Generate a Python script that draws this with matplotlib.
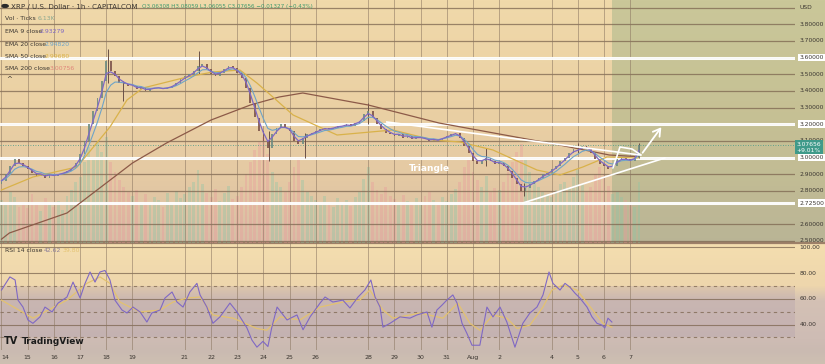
import numpy as np
import pandas as pd
import matplotlib.pyplot as plt
from matplotlib.patches import Rectangle

# =====================================================
# DATA  (XRP / USD 1h chart, read off at 4h steps from Jul 14 00:00)
# =====================================================

closes = [
    2.86, 2.90, 2.95, 2.99, 2.97, 2.95,   # Jul 14
    2.93, 2.91, 2.89, 2.90, 2.88, 2.90,   # 15
    2.89, 2.90, 2.91, 2.92, 2.94, 2.97,   # 16
    3.02, 3.10, 3.20, 3.28, 3.36, 3.46,   # 17
    3.58, 3.52, 3.49, 3.45, 3.44, 3.43,   # 18
    3.43, 3.41, 3.42, 3.40, 3.41, 3.42,   # 19
    3.42, 3.41, 3.42, 3.43, 3.45, 3.47,   # 20
    3.49, 3.50, 3.52, 3.55, 3.56, 3.53,   # 21
    3.50, 3.49, 3.51, 3.53, 3.55, 3.54,   # 22
    3.51, 3.48, 3.42, 3.33, 3.24, 3.16,   # 23
    3.10, 3.06, 3.14, 3.18, 3.20, 3.18,   # 24
    3.16, 3.10, 3.08, 3.12, 3.14, 3.15,   # 25
    3.16, 3.17, 3.18, 3.17, 3.18, 3.19,   # 26
    3.19, 3.20, 3.19, 3.21, 3.22, 3.26,   # 27
    3.28, 3.24, 3.20, 3.17, 3.15, 3.14,   # 28
    3.13, 3.14, 3.12, 3.13, 3.11, 3.12,   # 29
    3.12, 3.11, 3.10, 3.11, 3.10, 3.12,   # 30
    3.13, 3.14, 3.15, 3.12, 3.07, 3.03,   # 31
    2.98, 2.96, 2.98, 3.00, 2.98, 2.96,   # Aug 1
    2.97, 2.95, 2.92, 2.88, 2.84, 2.80,   # 2
    2.82, 2.84, 2.86, 2.88, 2.90, 2.91,   # 3
    2.93, 2.95, 2.98, 3.00, 3.03, 3.05,   # 4
    3.05, 3.07, 3.06, 3.03, 2.99, 2.96,   # 5
    2.95, 2.93, 2.95, 2.99, 3.00, 2.99,   # 6
    2.98, 3.00, 3.077,                    # 7
]
first_open = 2.84

volume_k = [
    4.2, 3.8, 5.0, 4.5, 3.6, 4.0,
    3.5, 4.8, 4.0, 3.2, 4.4, 3.9,
    3.6, 4.1, 3.3, 4.6, 5.2, 6.0,
    6.5, 8.0, 9.5, 8.5, 10.0, 9.0,
    10.5, 8.0, 7.0, 6.2, 5.5, 5.0,
    4.6, 5.2, 4.0, 4.8, 3.9, 4.5,
    4.2, 3.6, 4.9, 4.0, 5.1, 4.4,
    4.8, 5.5, 6.0, 7.2, 5.8, 4.9,
    4.5, 5.3, 4.1, 4.9, 5.6, 4.3,
    4.6, 5.5, 6.8, 8.0, 9.2, 10.0,
    10.5, 8.8, 7.0, 6.0, 5.5, 5.0,
    6.0, 7.5, 8.5, 6.2, 5.0, 4.6,
    4.2, 3.8, 4.6, 4.0, 3.6, 4.4,
    3.9, 4.2, 3.7, 4.5, 5.0, 6.3,
    7.5, 6.0, 5.2, 4.8, 5.5, 4.6,
    4.3, 3.8, 4.7, 4.1, 3.9, 4.4,
    4.0, 4.6, 5.0, 4.2, 3.8, 4.5,
    4.1, 4.8, 5.3, 6.0, 7.5, 8.2,
    7.0, 6.2, 5.5, 6.6, 5.0, 5.4,
    5.2, 6.0, 7.0, 8.0, 9.0, 9.8,
    8.5, 7.0, 6.0, 5.5, 5.0, 4.8,
    4.5, 5.2, 5.8, 6.0, 5.5, 6.5,
    7.2, 5.8, 5.0, 5.5, 6.8, 7.5,
    6.8, 5.6, 4.8, 5.0, 4.5, 4.2,
    4.0, 3.6, 6.0,
]

# bigger wicks (day, low, high)
wick_day = [4.05, 4.65, 7.55, 10.2, 11.6, 14.0, 18.5, 19.95, 22.0, 24.33]
wick_low = [3.45, 3.34, 3.50, 2.98, 3.00, 3.20, 2.95, 2.77, 3.03, 3.00]
wick_high = [3.65, 3.46, 3.64, 3.16, 3.15, 3.33, 3.06, 2.85, 3.09, 3.09]

sma50_day = [0.0, 1.2, 2.88, 4.14, 4.79, 5.40, 6.32, 7.08, 8.07, 9.10, 9.75, 10.36,
             11.13, 12.81, 14.94, 16.47, 17.50, 18.76, 20.44, 21.32, 22.19, 23.11, 24.3]
sma50 = [2.805, 2.883, 2.943, 3.183, 3.345, 3.417, 3.453, 3.483, 3.513, 3.525, 3.447, 3.363,
         3.255, 3.135, 3.165, 3.105, 3.093, 3.045, 2.925, 2.895, 2.943, 3.003, 2.997]

sma200_day = [0.0, 0.3, 2.5, 5.0, 6.3, 8.0, 9.5, 10.6, 11.5, 14.0, 16.7, 21.3, 23.2, 24.3]
sma200 = [2.51, 2.547, 2.667, 2.967, 3.087, 3.225, 3.315, 3.363, 3.387, 3.315, 3.207,
          3.075, 3.015, 3.005]

rsi_day = [0.0, 0.32, 0.52, 0.63, 0.82, 1.01, 1.20, 1.47, 1.66, 1.93, 2.16, 2.50, 2.73,
           3.00, 3.19, 3.38, 3.57, 3.76, 3.95, 4.14, 4.33, 4.60, 4.79, 5.02, 5.29, 5.55,
           5.74, 6.05, 6.24, 6.51, 6.70, 6.93, 7.19, 7.46, 7.58, 7.84, 8.07, 8.34, 8.72,
           8.99, 9.37, 9.56, 9.75, 9.98, 10.17, 10.32, 10.52, 10.90, 11.28, 11.51, 11.78,
           12.16, 12.35, 12.65, 13.03, 13.30, 13.61, 13.87, 14.10, 14.26, 14.45, 14.56,
           14.83, 15.21, 15.59, 15.86, 16.24, 16.43, 16.62, 16.81, 17.00, 17.23, 17.39,
           17.58, 17.77, 17.96, 18.26, 18.53, 18.76, 19.03, 19.29, 19.60, 19.90, 20.17,
           20.44, 20.67, 20.90, 21.05, 21.32, 21.51, 21.70, 21.89, 22.08, 22.35, 22.54,
           22.73, 22.92, 23.03, 23.15, 23.30]
rsi = [66.8, 77, 74.6, 59, 53.6, 43.6, 41, 46, 53.6, 49.8, 56.7, 61.4, 73,
       60.6, 72, 80.8, 73, 80.8, 82, 74.6, 59, 51.3, 49, 53.6, 49.8, 42,
       49, 51.3, 60.6, 65.3, 57.5, 53.6, 65.3, 72, 63, 53.6, 41, 46, 56.7,
       49.8, 37.4, 28, 22.5, 27, 23, 38, 53.6, 43.6, 47.5, 36, 46,
       56.7, 61.4, 57.5, 59, 52.9, 61.4, 66.8, 74.6, 61.4, 53.6, 38,
       41, 46, 45, 47.5, 49.8, 38, 51.3, 55, 59, 63, 56.7,
       41, 33, 24, 24, 53.6, 46, 53.6, 42, 22.5, 41, 49,
       53.6, 63, 80.8, 72, 66.8, 72, 69, 64.4, 60.6, 53.6, 46,
       41, 39.6, 37.4, 45, 42]

rsi_ma_day = [0.0, 1.20, 2.50, 3.26, 3.76, 4.14, 4.52, 5.29, 6.05, 6.55, 7.08, 7.58, 8.07,
              8.84, 9.75, 10.13, 10.63, 11.39, 12.16, 13.03, 13.68, 14.06, 14.56, 14.94,
              15.59, 15.97, 16.85, 17.42, 17.88, 18.26, 18.76, 19.29, 19.68, 20.17, 20.67,
              21.01, 21.43, 21.97, 22.48, 22.96, 23.30]
rsi_ma = [59, 45, 59, 72, 77, 72, 57.5, 49.8, 51.3, 57.5, 60.6, 61.4, 47.5,
          45, 37, 35.6, 46, 43.6, 53.6, 57.5, 59, 66.8, 51.3, 45,
          47.5, 49, 45, 56.7, 41, 35.6, 47.5, 45, 37, 39.6, 53.6,
          66.8, 70.7, 66.8, 53.6, 41, 38]

# horizontal levels and the triangle drawing
levels = [3.6, 3.2, 3.0, 2.725]
upper_line_day, upper_line_px = [14.71, 24.37], [3.213, 3.015]
lower_line_day, lower_line_px = [19.90, 25.32], [2.727, 2.997]
flag_day = [23.34, 23.61, 24.07, 24.41]
flag_px = [2.937, 3.063, 3.051, 3.015]
arrow_from, arrow_to = (24.41, 3.015), (25.25, 3.195)

date_ticks = [0, 1, 2, 3, 4, 5, 7, 8, 9, 10, 11, 12, 14, 15, 16, 17, 18, 19, 21, 22, 23, 24]
date_labels = ['14', '15', '16', '17', '18', '19', '21', '22', '23', '24', '25', '26',
               '28', '29', '30', '31', 'Aug', '2', '4', '5', '6', '7']
price_ticks = [3.8, 3.7, 3.6, 3.5, 3.4, 3.3, 3.2, 3.1, 3.0, 2.9, 2.8, 2.725, 2.6, 2.5]
rsi_ticks = [100, 80, 60, 40]

last_price = 3.07656

# =====================================================
# FIGURE + BACKGROUND
# =====================================================

W, H = 825, 364
fig = plt.figure(figsize=(8.25, 3.64), dpi=100)

bg = fig.add_axes([0, 0, 1, 1])
bg.set_zorder(-5)
stops_y = [0, 100, 180, 243, 244, 285, 300, 338, 350, 364]
stops_c = np.array([
    (240, 217, 170), (235, 209, 164), (228, 201, 163), (216, 190, 166),
    (244, 222, 175), (238, 214, 172), (212, 193, 180), (206, 188, 180),
    (202, 186, 177), (206, 192, 178)]) / 255
rows = np.arange(H)
grad = np.stack([np.interp(rows, stops_y, stops_c[:, k]) for k in range(3)], axis=1)
bg.imshow(grad[:, None, :], extent=[0, W, H, 0], aspect='auto')
bg.add_patch(Rectangle((612, 0), W - 612, 243, color=(0.45, 0.62, 0.45), alpha=0.3, lw=0))
bg.axhline(242.5, color='#9c8068', lw=1.6)
bg.set_xlim(0, W)
bg.set_ylim(H, 0)
bg.axis('off')

xlim = (-0.057, 30.29)
pane_w = 795 / W

# =====================================================
# PRICE PANE
# =====================================================

ax = fig.add_axes([0, 121 / H, pane_w, 243 / H])
ax.set_zorder(2)
ax.patch.set_visible(False)
ax.set_xlim(*xlim)
ax.set_ylim(2.487, 3.945)
for s in ax.spines.values():
    s.set_visible(False)
ax.set_xticks([])
ax.set_yticks([])

for p in [3.9, 3.8, 3.7, 3.6, 3.5, 3.4, 3.3, 3.2, 3.1, 3.0, 2.9, 2.8, 2.6, 2.5]:
    ax.axhline(p, color='#7d6650', lw=0.9, alpha=0.75, zorder=1)
for d in date_ticks:
    ax.axvline(d, color='#8a7560', lw=0.7, alpha=0.55, zorder=1)
for lv in levels:
    ax.axhline(lv, color='white', lw=2.2, alpha=0.95, zorder=3)

# volume underneath
axv = ax.twinx()
axv.set_zorder(1)
axv.set_ylim(0, 24)
axv.axis('off')

days = np.arange(len(closes)) / 6
opens = [first_open] + closes[:-1]
up = np.array(closes) >= np.array(opens)
vol_colors = np.where(up, '#8fc6a6', '#e99c9c')
axv.bar(days, volume_k, width=0.11, color=vol_colors, alpha=0.38, lw=0)

# candles
body = np.array(closes) - np.array(opens)
cand_colors = np.where(up, '#6b8a80', '#7a5048')
ax.vlines(wick_day, wick_low, wick_high, color='#6a5048', lw=0.7, zorder=4)
ax.bar(days, body, bottom=opens, width=0.07, color=cand_colors, alpha=0.85, lw=0, zorder=4)

# moving averages (4h bars: EMA9/EMA20 of 1h ~ span 2.4 / 5 here)
ema9 = pd.Series(closes).ewm(span=2.4, adjust=False).mean()
ema20 = pd.Series(closes).ewm(span=5, adjust=False).mean()
ax.plot(sma200_day, sma200, color='#8c5a48', lw=0.9, zorder=5)
ax.plot(sma50_day, sma50, color='#d9b24a', lw=0.9, zorder=5)
ax.plot(days, ema20, color='#6ea4c8', lw=0.8, zorder=6)
ax.plot(days, ema9, color='#7f68c4', lw=0.9, zorder=6)

# current price line
ax.axhline(last_price, color='#3f9a8a', lw=0.6, ls=(0, (1, 2)), zorder=3)

# triangle drawing
ax.plot(upper_line_day, upper_line_px, color='white', lw=1.2, zorder=7)
ax.plot(lower_line_day, lower_line_px, color='white', lw=1.2, zorder=7)
ax.plot(flag_day, flag_px, color='white', lw=1.2, zorder=7)
ax.annotate('', xy=arrow_to, xytext=arrow_from, zorder=7,
            arrowprops=dict(arrowstyle='->,head_length=0.5,head_width=0.3',
                            color='white', lw=1.3))
ax.text(16.35, 2.935, 'Triangle', color='white', fontsize=6.5, fontweight='bold',
        ha='center', va='center', zorder=7)

# right price scale
yt = ax.get_yaxis_transform()
ax.text(1.006, 3.9, 'USD', transform=yt, fontsize=4.3, va='center', color='#3a3530',
        clip_on=False)
for p in price_ticks:
    box = dict(boxstyle='square,pad=0.25', fc='white', ec='none') if p in levels else None
    ax.text(1.006, p, f'{p:.5f}', transform=yt, fontsize=4.3, va='center',
            color='#3a3530', bbox=box, clip_on=False)
ax.text(1.002, 3.062, f'{last_price:.5f}\n+9.01%', transform=yt, fontsize=4.3,
        va='center', color='white', linespacing=1.2, clip_on=False, zorder=9,
        bbox=dict(boxstyle='square,pad=0.3', fc='#3f9a8a', ec='none'))

# =====================================================
# RSI PANE
# =====================================================

axr = fig.add_axes([0, 14 / H, pane_w, 107 / H])
axr.set_zorder(2)
axr.patch.set_visible(False)
axr.set_xlim(*xlim)
axr.set_ylim(20.3, 103.3)
for s in axr.spines.values():
    s.set_visible(False)
axr.set_yticks([])
axr.set_xticks(date_ticks, date_labels)
axr.tick_params(axis='x', length=0, pad=3.5, labelsize=4.5, labelcolor='#3a3530')
axr.get_xticklabels()[0].set_horizontalalignment('left')

axr.axhspan(30, 70, color='#9a86a8', alpha=0.18, lw=0)
for v in [100, 80, 60, 40]:
    axr.axhline(v, color='#7d6650', lw=0.8, alpha=0.75)
for v in [70, 50, 30]:
    axr.axhline(v, color='#7d6650', lw=0.8, alpha=0.75, ls=(0, (3, 3)))
for d in date_ticks:
    axr.axvline(d, color='#8a7560', lw=0.7, alpha=0.55)

axr.plot(rsi_ma_day, rsi_ma, color='#e3c270', lw=0.9, zorder=3)
axr.plot(rsi_day, rsi, color='#7f68c4', lw=0.8, zorder=4)

yr = axr.get_yaxis_transform()
for v in rsi_ticks:
    axr.text(1.006, v, f'{v:.2f}', transform=yr, fontsize=4.3, va='center',
             color='#3a3530', clip_on=False)

# =====================================================
# LEGEND TEXTS
# =====================================================

def ftxt(x, y, s, **kw):
    kw.setdefault('fontsize', 4.4)
    kw.setdefault('color', '#3a3530')
    fig.text(x / W, 1 - y / H, s, va='center', **kw)

fig.patches.append(plt.Circle((5 / W, 1 - 6 / H), 3.2 / W, transform=fig.transFigure,
                              color='#2a2a2a'))
ftxt(11, 6.5, 'XRP / U.S. Dollar · 1h · CAPITALCOM', fontsize=5.1)
ftxt(142, 6.5, 'O3.06308 H3.08059 L3.06055 C3.07656 −0.01327 (−0.43%)',
     color='#3f9a6e', fontsize=4.1)
ftxt(5, 19, 'Vol · Ticks')
ftxt(38, 19, '6.13K', color='#8aa890')
ftxt(5, 31.5, 'EMA 9 close')
ftxt(40, 31.5, '2.93279', color='#7f68c4')
ftxt(5, 44, 'EMA 20 close')
ftxt(45, 44, '2.94820', color='#6ea4c8')
ftxt(5, 56, 'SMA 50 close')
ftxt(45, 56, '2.99680', color='#d9b24a')
ftxt(5, 68, 'SMA 200 close')
ftxt(50, 68, '3.00756', color='#e0857a')
ftxt(6, 79, '^', fontsize=5)
ftxt(5, 250, 'RSI 14 close')
ftxt(44, 250, '42.62', color='#8a7d9a')
ftxt(63, 250, '39.80', color='#e3c270')

ftxt(4, 341, 'TV', fontsize=7, fontweight='bold', color='#1c1c1c')
ftxt(22, 341, 'TradingView', fontsize=6.5, fontweight='bold', color='#1c1c1c')

fig.savefig('out.png', dpi=100)
